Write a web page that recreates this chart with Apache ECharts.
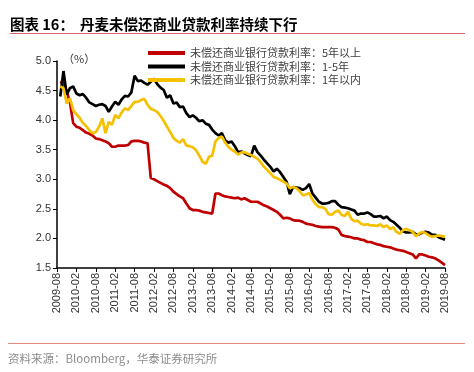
<!DOCTYPE html>
<html>
<head>
<meta charset="utf-8">
<script src="https://cdn.jsdelivr.net/npm/echarts@6/dist/echarts.min.js"></script>
<style>
html,body{margin:0;padding:0;background:#fff;}
#c{width:474px;height:372px;}
</style>
</head>
<body>
<div id="c"></div>
<script>
// Months 2009-08 .. 2019-08
const categories = [];
for (let y = 2009, m = 8; y < 2019 || (y === 2019 && m <= 8); ) {
  categories.push(y + '-' + (m < 10 ? '0' + m : m));
  m++; if (m > 12) { m = 1; y++; }
}

const seriesNames = [
  '未偿还商业银行贷款利率：5年以上',
  '未偿还商业银行贷款利率：1-5年',
  '未偿还商业银行贷款利率：1年以内'
];

const over5y = [null,
  4.65, 4.62, 4.49, 4.30, 3.95, 3.89, 3.87, 3.83, 3.79, 3.77,
  3.74, 3.69, 3.68, 3.66, 3.64, 3.61, 3.55, 3.55, 3.57, 3.57,
  3.57, 3.58, 3.64, 3.65, 3.65, 3.64, 3.62, 3.61, 3.02, 3.00,
  2.97, 2.94, 2.91, 2.89, 2.85, 2.79, 2.75, 2.71, 2.68, 2.59,
  2.51, 2.48, 2.48, 2.47, 2.45, 2.44, 2.43, 2.42, 2.76, 2.76,
  2.73, 2.71, 2.70, 2.69, 2.68, 2.69, 2.66, 2.68, 2.65, 2.62,
  2.62, 2.62, 2.59, 2.56, 2.54, 2.51, 2.48, 2.45, 2.40, 2.34,
  2.35, 2.34, 2.31, 2.30, 2.30, 2.28, 2.25, 2.24, 2.23, 2.21,
  2.20, 2.19, 2.19, 2.19, 2.19, 2.18, 2.15, 2.06, 2.04, 2.03,
  2.02, 2.00, 2.00, 1.98, 1.97, 1.94, 1.94, 1.92, 1.90, 1.89,
  1.87, 1.86, 1.85, 1.83, 1.81, 1.80, 1.79, 1.77, 1.75, 1.73,
  1.66, 1.73, 1.73, 1.71, 1.69, 1.68, 1.66, 1.63, 1.59, 1.55
];

const y1to5 = [null,
  4.40, 4.83, 4.43, 4.54, 4.57, 4.45, 4.42, 4.44, 4.38, 4.30,
  4.27, 4.24, 4.26, 4.27, 4.24, 4.14, 4.23, 4.31, 4.26, 4.35,
  4.41, 4.40, 4.47, 4.75, 4.66, 4.67, 4.63, 4.60, 4.65, 4.70,
  4.61, 4.55, 4.51, 4.38, 4.42, 4.28, 4.30, 4.22, 4.23, 4.12,
  4.05, 4.08, 4.04, 3.98, 4.00, 3.94, 3.92, 3.84, 3.78, 3.74,
  3.78, 3.66, 3.62, 3.64, 3.56, 3.46, 3.47, 3.44, 3.41, 3.39,
  3.57, 3.46, 3.40, 3.33, 3.27, 3.21, 3.13, 3.18, 3.12, 3.04,
  2.96, 2.75, 2.87, 2.86, 2.85, 2.82, 2.85, 2.92, 2.76, 2.69,
  2.62, 2.59, 2.59, 2.60, 2.63, 2.63, 2.57, 2.53, 2.52, 2.51,
  2.49, 2.47, 2.40, 2.42, 2.42, 2.44, 2.41, 2.37, 2.37, 2.38,
  2.34, 2.37, 2.31, 2.28, 2.23, 2.18, 2.12, 2.10, 2.10, 2.11,
  2.07, 2.07, 2.10, 2.11, 2.10, 2.06, 2.06, 2.02, 2.00, 1.98
];

const under1y = [null,
  4.57, 4.54, 4.28, 4.37, 4.17, 4.10, 4.04, 3.95, 3.90, 3.83,
  3.78, 3.80, 3.89, 4.03, 3.78, 3.97, 3.92, 4.09, 4.03, 4.13,
  4.20, 4.17, 4.24, 4.31, 4.31, 4.34, 4.36, 4.26, 4.19, 4.17,
  4.14, 4.07, 3.99, 3.89, 3.80, 3.70, 3.65, 3.62, 3.68, 3.57,
  3.56, 3.54, 3.49, 3.40, 3.30, 3.26, 3.38, 3.40, 3.64, 3.70,
  3.72, 3.62, 3.55, 3.50, 3.47, 3.42, 3.45, 3.46, 3.43, 3.41,
  3.38, 3.35, 3.29, 3.21, 3.16, 3.10, 3.04, 3.02, 2.99, 2.96,
  2.93, 2.85, 2.87, 2.85, 2.80, 2.73, 2.74, 2.77, 2.65, 2.58,
  2.53, 2.53, 2.50, 2.41, 2.40, 2.45, 2.47, 2.40, 2.38, 2.45,
  2.33, 2.29, 2.30, 2.25, 2.23, 2.24, 2.22, 2.22, 2.21, 2.24,
  2.19, 2.22, 2.16, 2.19, 2.11, 2.08, 2.14, 2.16, 2.14, 2.11,
  2.04, 2.08, 2.11, 2.09, 2.05, 2.03, 2.04, 2.05, 2.04, 2.03
];

const titlePrefix = '图表 16：';
const titleText = '丹麦未偿还商业贷款利率持续下行';
const sourceText = '资料来源：Bloomberg，华泰证券研究所';
const unitText = '（%）';

const CJK = '"Noto Sans CJK SC", "Liberation Sans", sans-serif';
const NUM = '"Liberation Sans", Arial, sans-serif';

const chart = echarts.init(document.getElementById('c'), null, {renderer: 'canvas'});
chart.setOption({
  animation: false,
  backgroundColor: '#fff',
  color: ['#C00000', '#000000', '#F5C000'],
  graphic: [
    {type: 'text', left: 10, top: 17, style: {text: titlePrefix, font: 'bold 14.5px ' + CJK, fill: '#000'}},
    {type: 'text', left: 80, top: 17, style: {text: titleText, font: 'bold 14.5px ' + CJK, fill: '#000'}},
    {type: 'line', shape: {x1: 10, y1: 33.5, x2: 465, y2: 33.5}, style: {stroke: '#D9686A', lineWidth: 1}},
    {type: 'line', shape: {x1: 8, y1: 343.5, x2: 465, y2: 343.5}, style: {stroke: '#E58A7A', lineWidth: 1}},
    {type: 'text', left: 8, top: 353, style: {text: sourceText, font: '11.5px ' + CJK, fill: '#8C8C8C'}},
    {type: 'text', left: 63, top: 53, style: {text: unitText, font: '11px ' + CJK, fill: '#333'}}
  ],
  legend: {
    orient: 'vertical',
    left: 148,
    top: 47,
    padding: 0,
    icon: 'rect',
    itemWidth: 37,
    itemHeight: 4,
    itemGap: 1.5,
    textStyle: {fontSize: 11, lineHeight: 12, color: '#404040', fontFamily: CJK},
    data: seriesNames
  },
  grid: {left: 57, right: 29, top: 61, bottom: 104, containLabel: false},
  xAxis: {
    type: 'category',
    data: categories,
    boundaryGap: false,
    axisLine: {lineStyle: {color: '#000', width: 1.5}},
    axisTick: {show: true, interval: 5, length: 4, lineStyle: {color: '#000'}},
    axisLabel: {interval: 5, rotate: 90, fontSize: 11, color: '#333', fontFamily: NUM, margin: 5},
    splitLine: {show: false}
  },
  yAxis: {
    type: 'value',
    min: 1.5,
    max: 5.0,
    interval: 0.5,
    axisLine: {show: true, lineStyle: {color: '#000', width: 1.5}},
    axisTick: {show: true, length: 4, lineStyle: {color: '#000'}},
    axisLabel: {fontSize: 11, color: '#333', fontFamily: NUM, margin: 6, formatter: v => v.toFixed(1)},
    splitLine: {show: false}
  },
  series: [
    {name: seriesNames[0], type: 'line', data: over5y, showSymbol: false, lineStyle: {width: 2.7, color: '#C00000'}, itemStyle: {color: '#C00000'}},
    {name: seriesNames[1], type: 'line', data: y1to5, showSymbol: false, lineStyle: {width: 2.7, color: '#000000'}, itemStyle: {color: '#000000'}},
    {name: seriesNames[2], type: 'line', data: under1y, showSymbol: false, lineStyle: {width: 2.7, color: '#F5C000'}, itemStyle: {color: '#F5C000'}}
  ]
});
</script>
</body>
</html>
